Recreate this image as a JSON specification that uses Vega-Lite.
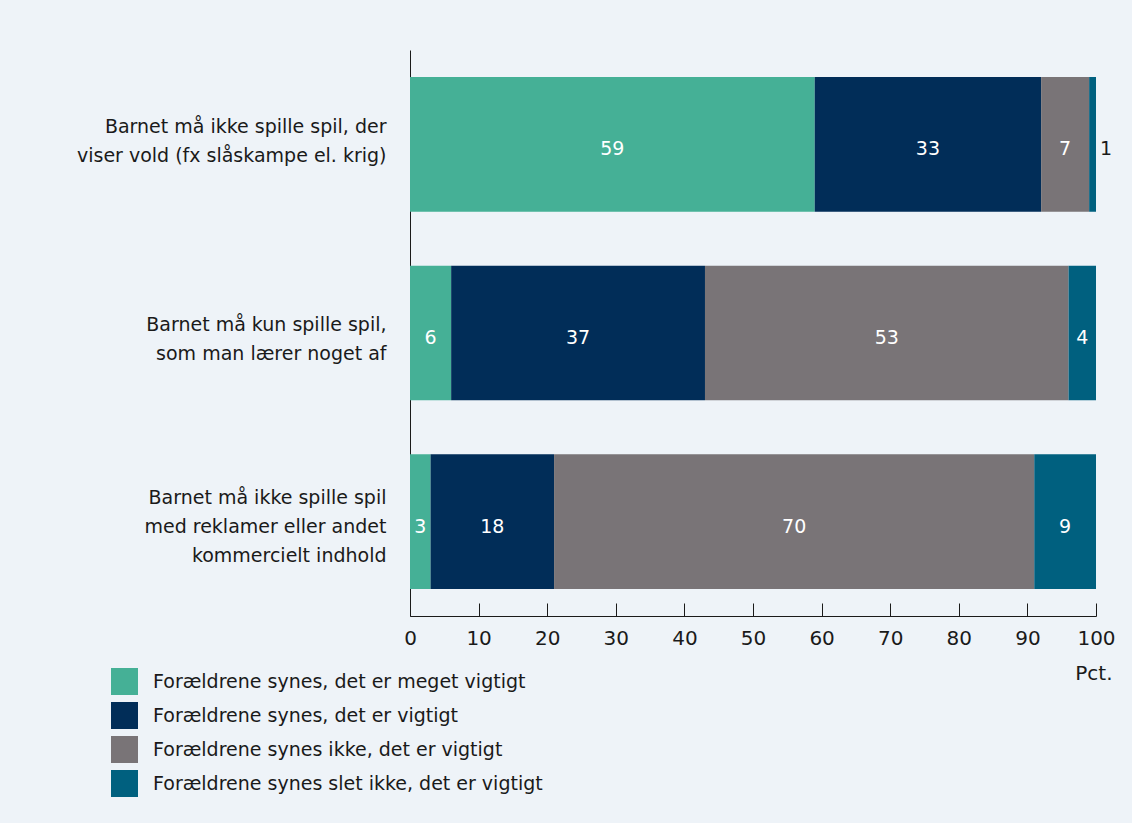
{
  "$schema": "https://vega.github.io/schema/vega-lite/v6.json",
  "width": 686,
  "height": 566,
  "autosize": "none",
  "padding": {"left": 410, "top": 50, "right": 36, "bottom": 207},
  "background": "#eef3f8",
  "config": {
    "view": {"stroke": null},
    "font": "DejaVu Sans"
  },
  "data": {
    "values": [
      {"q": "Barnet må ikke spille spil, der|viser vold (fx slåskampe el. krig)", "c": "Forældrene synes, det er meget vigtigt", "o": 1, "v": 59},
      {"q": "Barnet må ikke spille spil, der|viser vold (fx slåskampe el. krig)", "c": "Forældrene synes, det er vigtigt", "o": 2, "v": 33},
      {"q": "Barnet må ikke spille spil, der|viser vold (fx slåskampe el. krig)", "c": "Forældrene synes ikke, det er vigtigt", "o": 3, "v": 7},
      {"q": "Barnet må ikke spille spil, der|viser vold (fx slåskampe el. krig)", "c": "Forældrene synes slet ikke, det er vigtigt", "o": 4, "v": 1},
      {"q": "Barnet må kun spille spil,|som man lærer noget af", "c": "Forældrene synes, det er meget vigtigt", "o": 1, "v": 6},
      {"q": "Barnet må kun spille spil,|som man lærer noget af", "c": "Forældrene synes, det er vigtigt", "o": 2, "v": 37},
      {"q": "Barnet må kun spille spil,|som man lærer noget af", "c": "Forældrene synes ikke, det er vigtigt", "o": 3, "v": 53},
      {"q": "Barnet må kun spille spil,|som man lærer noget af", "c": "Forældrene synes slet ikke, det er vigtigt", "o": 4, "v": 4},
      {"q": "Barnet må ikke spille spil|med reklamer eller andet|kommercielt indhold", "c": "Forældrene synes, det er meget vigtigt", "o": 1, "v": 3},
      {"q": "Barnet må ikke spille spil|med reklamer eller andet|kommercielt indhold", "c": "Forældrene synes, det er vigtigt", "o": 2, "v": 18},
      {"q": "Barnet må ikke spille spil|med reklamer eller andet|kommercielt indhold", "c": "Forældrene synes ikke, det er vigtigt", "o": 3, "v": 70},
      {"q": "Barnet må ikke spille spil|med reklamer eller andet|kommercielt indhold", "c": "Forældrene synes slet ikke, det er vigtigt", "o": 4, "v": 9}
    ]
  },
  "encoding": {
    "y": {
      "field": "q",
      "type": "nominal",
      "sort": null,
      "scale": {"paddingInner": 0.286, "paddingOuter": 0.143},
      "axis": {
        "title": null,
        "ticks": false,
        "domainColor": "#1a1a1a",
        "labelExpr": "split(datum.label, '|')",
        "labelLineHeight": 29,
        "labelFontSize": 19,
        "labelColor": "#1a1a1a",
        "labelAlign": "right",
        "labelBaseline": "middle",
        "labelPadding": 24,
        "labelLimit": 400,
        "labelOffset": {
          "condition": [
            {"test": "indexof(datum.value, 'kommercielt') >= 0", "value": -24},
            {"test": "indexof(datum.value, 'lærer') >= 0", "value": -8}
          ],
          "value": -17
        }
      }
    }
  },
  "layer": [
    {
      "mark": {"type": "bar"},
      "encoding": {
        "x": {
          "field": "v",
          "type": "quantitative",
          "stack": "zero",
          "scale": {"domain": [0, 100], "nice": false},
          "axis": {
            "values": [0, 10, 20, 30, 40, 50, 60, 70, 80, 90, 100],
            "grid": false,
            "tickSize": -13,
            "tickColor": "#1a1a1a",
            "domainColor": "#1a1a1a",
            "labelFontSize": 20,
            "labelColor": "#1a1a1a",
            "labelPadding": 25,
            "labelFlush": false,
            "title": "Pct.",
            "titleFontSize": 20,
            "titleFontWeight": "normal",
            "titleColor": "#1a1a1a",
            "titleAlign": "right",
            "titleBaseline": "middle",
            "titleX": 702,
            "titleY": 57
          }
        },
        "color": {
          "field": "c",
          "type": "nominal",
          "scale": {
            "domain": [
              "Forældrene synes, det er meget vigtigt",
              "Forældrene synes, det er vigtigt",
              "Forældrene synes ikke, det er vigtigt",
              "Forældrene synes slet ikke, det er vigtigt"
            ],
            "range": ["#45b096", "#012d58", "#797477", "#00607f"]
          },
          "legend": {
            "orient": "none",
            "legendX": -299,
            "legendY": 618,
            "title": null,
            "symbolType": "square",
            "symbolSize": 729,
            "symbolStrokeWidth": 0,
            "symbolOpacity": 1,
            "labelFontSize": 19,
            "labelColor": "#1a1a1a",
            "labelOffset": 15,
            "rowPadding": 7,
            "labelLimit": 500
          }
        },
        "order": {"field": "o"}
      }
    },
    {
      "mark": {"type": "text", "color": "white", "fontSize": 19, "dy": 5},
      "encoding": {
        "x": {"field": "v", "type": "quantitative", "stack": "zero", "bandPosition": 0.5},
        "detail": {"field": "c"},
        "order": {"field": "o"},
        "text": {"condition": {"test": "datum.v >= 2", "field": "v"}, "value": ""}
      }
    },
    {
      "mark": {"type": "text", "color": "#1a1a1a", "fontSize": 19, "align": "left", "dx": 4, "dy": 5},
      "encoding": {
        "x": {"field": "v", "type": "quantitative", "stack": "zero"},
        "detail": {"field": "c"},
        "order": {"field": "o"},
        "text": {"condition": {"test": "datum.v < 2", "field": "v"}, "value": ""}
      }
    }
  ]
}
